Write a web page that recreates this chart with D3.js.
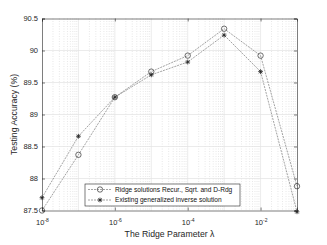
<!DOCTYPE html>
<html lang="en">
<head>
<meta charset="UTF-8">
<script src="https://d3js.org/d3.v7.min.js"></script>
<style>
  body { margin: 0; background: #fff; }
  text { font-family: "Liberation Sans", Arial, sans-serif; }
  .tick text { fill: #262626; font-size: 7.5px; }
</style>
</head>
<body>
<svg width="327" height="245"></svg>
<script>
// ridge parameter values and accuracies
const lambdas = [1e-8, 1e-7, 1e-6, 1e-5, 1e-4, 1e-3, 1e-2, 1e-1];
const ridgeAcc = [87.50, 88.37, 89.27, 89.67, 89.92, 90.34, 89.92, 87.88];
const existingAcc = [87.70, 88.66, 89.27, 89.62, 89.82, 90.24, 89.67, 87.48];
const yTicks = [87.5, 88, 88.5, 89, 89.5, 90, 90.5];
const xTicks = [1e-8, 1e-6, 1e-4, 1e-2];
const legendLabels = ['Ridge solutions Recur., Sqrt. and D-Rdg', 'Existing generalized inverse solution'];

const svg = d3.select('svg');
const m = {left: 42, right: 297, top: 18.5, bottom: 210.5};

const x = d3.scaleLog().domain([1e-8, 1e-1]).range([m.left, m.right]);
const y = d3.scaleLinear().domain([87.5, 90.5]).range([m.bottom, m.top]);

// minor grid (dotted, x only)
const minor = [];
for (let e = -8; e < -1; e++) for (let k = 2; k <= 9; k++) minor.push(k * Math.pow(10, e));
svg.append('g').selectAll('line').data(minor).enter().append('line')
  .attr('x1', d => x(d)).attr('x2', d => x(d))
  .attr('y1', m.top).attr('y2', m.bottom)
  .attr('stroke', '#d8d8d8').attr('stroke-width', 0.6).attr('stroke-dasharray', '1,1.5');

// major grid
svg.append('g').selectAll('line').data(lambdas.slice(1, -1)).enter().append('line')
  .attr('x1', d => x(d)).attr('x2', d => x(d))
  .attr('y1', m.top).attr('y2', m.bottom)
  .attr('stroke', '#e3e3e3').attr('stroke-width', 0.7);
svg.append('g').selectAll('line').data(yTicks.slice(1, -1)).enter().append('line')
  .attr('x1', m.left).attr('x2', m.right)
  .attr('y1', d => y(d)).attr('y2', d => y(d))
  .attr('stroke', '#e3e3e3').attr('stroke-width', 0.7);

// axes
const xAxis = svg.append('g').attr('transform', `translate(0,${m.bottom})`)
  .call(d3.axisBottom(x).tickValues(xTicks).tickSize(-3).tickPadding(9).tickFormat(() => ''));
const yAxis = svg.append('g').attr('transform', `translate(${m.left},0)`)
  .call(d3.axisLeft(y).tickValues(yTicks).tickSize(-3).tickPadding(4).tickFormat(d => d));
svg.append('g').attr('transform', `translate(0,${m.top})`)
  .call(d3.axisTop(x).tickValues(xTicks).tickSize(-3).tickFormat(''));
svg.append('g').attr('transform', `translate(${m.right},0)`)
  .call(d3.axisRight(y).tickValues(yTicks).tickSize(-3).tickFormat(''));
svg.selectAll('.domain').attr('stroke', '#262626').attr('stroke-width', 0.6);
svg.selectAll('.tick line').attr('stroke', '#262626').attr('stroke-width', 0.6);

// x tick labels as 10^n
xAxis.selectAll('.tick text').each(function(d) {
  const t = d3.select(this);
  t.text('10');
  t.append('tspan').attr('dy', '-0.5em').attr('font-size', '5px').text(Math.round(Math.log10(d)));
});

// series lines
const line = d3.line().x(d => x(d[0])).y(d => y(d[1]));
const series = [ridgeAcc, existingAcc];
series.forEach(s => {
  svg.append('path').datum(lambdas.map((l, i) => [l, s[i]]))
    .attr('d', line).attr('fill', 'none')
    .attr('stroke', '#666').attr('stroke-width', 0.6).attr('stroke-dasharray', '2,1');
});

function circleMark(g, cx, cy) {
  g.append('circle').attr('cx', cx).attr('cy', cy).attr('r', 2.7)
    .attr('fill', 'none').attr('stroke', '#333').attr('stroke-width', 0.7);
}
function starMark(g, cx, cy) {
  const r = 2.4;
  const p = [[-r, 0, r, 0], [0, -r, 0, r], [-r * .7, -r * .7, r * .7, r * .7], [-r * .7, r * .7, r * .7, -r * .7]];
  p.forEach(q => g.append('line').attr('x1', cx + q[0]).attr('y1', cy + q[1]).attr('x2', cx + q[2]).attr('y2', cy + q[3])
    .attr('stroke', '#222').attr('stroke-width', 0.8));
}
const marks = svg.append('g');
lambdas.forEach((l, i) => circleMark(marks, x(l), y(ridgeAcc[i])));
lambdas.forEach((l, i) => starMark(marks, x(l), y(existingAcc[i])));

// legend
const lg = svg.append('g');
lg.append('rect').attr('x', 85).attr('y', 184).attr('width', 155).attr('height', 22)
  .attr('fill', '#fff').attr('stroke', '#262626').attr('stroke-width', 0.6);
legendLabels.forEach((lab, i) => {
  const ly = 189.5 + i * 10.5;
  lg.append('line').attr('x1', 88).attr('x2', 112).attr('y1', ly).attr('y2', ly)
    .attr('stroke', '#666').attr('stroke-width', 0.6).attr('stroke-dasharray', '2,1');
  if (i === 0) circleMark(lg, 100, ly); else starMark(lg, 100, ly);
  lg.append('text').attr('x', 115).attr('y', ly + 2.4).attr('font-size', '6.6px').attr('fill', '#111').text(lab);
});

// axis labels
svg.append('text').attr('x', (m.left + m.right) / 2).attr('y', 237).attr('text-anchor', 'middle')
  .attr('font-size', '8.7px').attr('fill', '#262626').text('The Ridge Parameter λ');
svg.append('text').attr('transform', `translate(17,${(m.top + m.bottom) / 2}) rotate(-90)`)
  .attr('text-anchor', 'middle').attr('font-size', '8.7px').attr('fill', '#262626').text('Testing Accuracy (%)');
</script>
</body>
</html>
